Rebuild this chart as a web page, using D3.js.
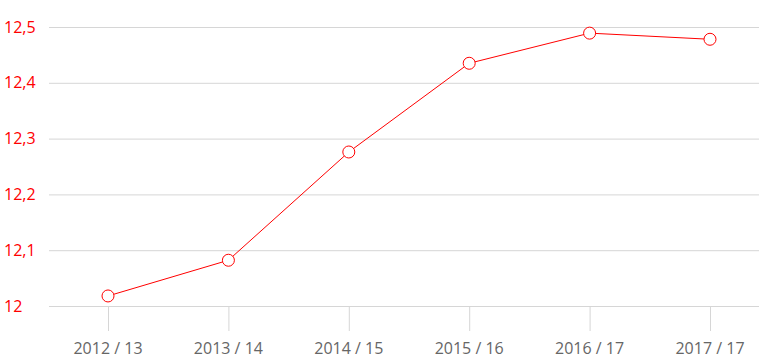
<!DOCTYPE html>
<html>
<head>
<meta charset="utf-8">
<script src="https://cdn.jsdelivr.net/npm/d3@7"></script>
<style>
  body { margin: 0; background: #fff; }
  svg text { font-family: "Open Sans", "Noto Sans", sans-serif; }
</style>
</head>
<body>
<svg id="chart" width="759" height="364"></svg>
<script>
const years = ['2012 / 13', '2013 / 14', '2014 / 15', '2015 / 16', '2016 / 17', '2017 / 17'];
const values = [12.018, 12.082, 12.276, 12.435, 12.489, 12.478];
const yTicks = [12, 12.1, 12.2, 12.3, 12.4, 12.5];

const svg = d3.select('#chart');
const red = '#ff0000';

const x = d3.scalePoint()
  .domain(years)
  .range([108, 710]);

const y = d3.scaleLinear()
  .domain([12, 12.5])
  .range([306, 27]);

const fmt = d => d3.format('.1f')(d).replace('.0', '').replace('.', ',');

// grid lines + y labels
const grid = svg.append('g');
grid.selectAll('line')
  .data(yTicks)
  .enter().append('line')
  .attr('x1', 49)
  .attr('x2', 759)
  .attr('y1', d => y(d) + 0.5)
  .attr('y2', d => y(d) + 0.5)
  .attr('stroke', '#d6d6d6')
  .attr('stroke-width', 1);

grid.selectAll('text')
  .data(yTicks)
  .enter().append('text')
  .attr('x', 4)
  .attr('y', d => y(d))
  .attr('dy', '0.35em')
  .attr('fill', red)
  .attr('font-size', 16)
  .text(fmt);

// x axis ticks + labels
const xAxis = svg.append('g');
xAxis.selectAll('line')
  .data(years)
  .enter().append('line')
  .attr('x1', d => x(d) + 0.5)
  .attr('x2', d => x(d) + 0.5)
  .attr('y1', 306)
  .attr('y2', 331)
  .attr('stroke', '#d6d6d6');

xAxis.selectAll('text')
  .data(years)
  .enter().append('text')
  .attr('x', d => x(d))
  .attr('y', 354)
  .attr('text-anchor', 'middle')
  .attr('fill', '#666')
  .attr('font-size', 16)
  .text(d => d);

// line
const line = d3.line()
  .x((d, i) => x(years[i]))
  .y(d => y(d));

svg.append('path')
  .datum(values)
  .attr('d', line)
  .attr('fill', 'none')
  .attr('stroke', red)
  .attr('stroke-width', 1);

svg.selectAll('circle.pt')
  .data(values)
  .enter().append('circle')
  .attr('class', 'pt')
  .attr('cx', (d, i) => x(years[i]))
  .attr('cy', d => y(d))
  .attr('r', 6)
  .attr('fill', '#fff')
  .attr('stroke', red)
  .attr('stroke-width', 1);
</script>
</body>
</html>
